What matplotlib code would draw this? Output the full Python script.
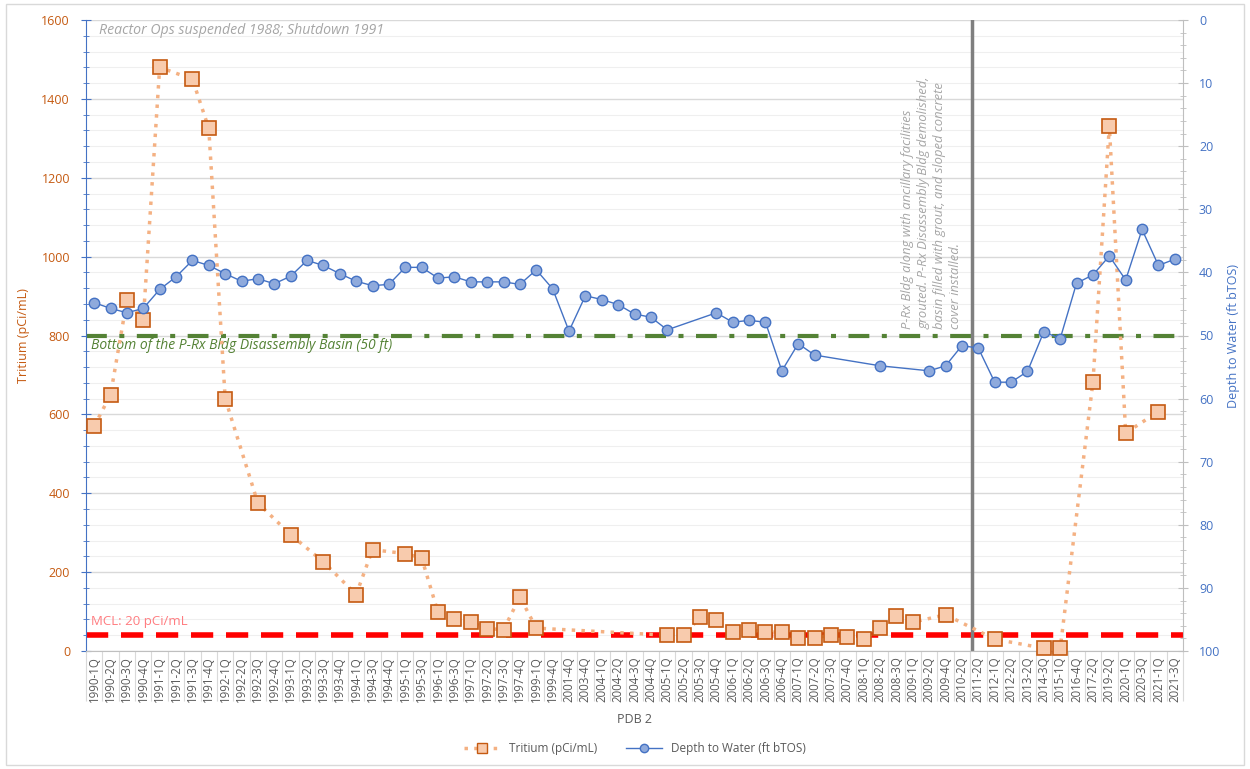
import numpy as np
import matplotlib
matplotlib.use("Agg")
import matplotlib.pyplot as plt
from matplotlib.lines import Line2D
from matplotlib.patches import Rectangle
from matplotlib.ticker import MultipleLocator, FixedLocator

plt.rcParams['font.family'] = ['Open Sans', 'DejaVu Sans']

categories = [
    "1990-1Q", "1990-2Q", "1990-3Q", "1990-4Q", "1991-1Q", "1991-2Q", "1991-3Q", "1991-4Q",
    "1992-1Q", "1992-2Q", "1992-3Q", "1992-4Q", "1993-1Q", "1993-2Q", "1993-3Q", "1993-4Q",
    "1994-1Q", "1994-3Q", "1994-4Q", "1995-1Q", "1995-3Q", "1996-1Q", "1996-3Q", "1997-1Q",
    "1997-2Q", "1997-3Q", "1997-4Q", "1999-1Q", "1999-4Q", "2001-4Q", "2003-4Q", "2004-1Q",
    "2004-2Q", "2004-3Q", "2004-4Q", "2005-1Q", "2005-2Q", "2005-3Q", "2005-4Q", "2006-1Q",
    "2006-2Q", "2006-3Q", "2006-4Q", "2007-1Q", "2007-2Q", "2007-3Q", "2007-4Q", "2008-1Q",
    "2008-2Q", "2008-3Q", "2009-1Q", "2009-2Q", "2009-4Q", "2010-2Q", "2011-2Q", "2012-1Q",
    "2012-2Q", "2013-2Q", "2014-3Q", "2015-1Q", "2016-4Q", "2017-2Q", "2019-2Q", "2020-1Q",
    "2020-3Q", "2021-1Q", "2021-3Q",
]

N = None
tritium = [
    570, 650, 890, 840, 1480, N, 1450, 1325,
    640, N, 375, N, 295, N, 226, N,
    143, 257, N, 247, 236, 98, 81, 73,
    57, 54, 137, 58, N, N, N, N,
    N, N, N, 40, 40, 85, 78, 48,
    54, 48, 48, 33, 33, 40, 36, 30,
    58, 90, 73, N, 92, N, N, 30,
    N, N, 7, 7, N, 682, 1331, 553,
    N, 607, N,
]

depth = [
    44.8, 45.7, 46.4, 45.7, 42.7, 40.7, 38.1, 38.9,
    40.2, 41.4, 41.0, 41.8, 40.6, 38.1, 38.9, 40.2,
    41.4, 42.1, 41.9, 39.2, 39.2, 40.9, 40.7, 41.5,
    41.5, 41.5, 41.9, 39.6, 42.6, 49.3, 43.7, 44.3,
    45.1, 46.6, 47.1, 49.1, N, N, 46.4, 47.9,
    47.6, 47.9, 55.6, 51.3, 53.1, N, N, N,
    54.8, N, N, 55.6, 54.8, 51.6, 52.0, 57.4,
    57.4, 55.7, 49.4, 50.5, 41.7, 40.4, 37.4, 41.2,
    33.2, 38.9, 37.9,
]

basin_bottom_tritium_scale = 800   # 50 ft on the depth axis
mcl_level = 40
event_position = 53.6

C_TRIT_LINE = "#F4B183"
C_TRIT_FACE = "#F8CBAD"
C_TRIT_EDGE = "#C55A11"
C_DEPTH = "#4472C4"
C_DEPTH_FACE = "#8FAADC"

fig = plt.figure(figsize=(12.5, 7.69), dpi=100)
ax = fig.add_axes([86/1250, 1-651/769, (1183-86)/1250, (651-20)/769])

x = np.arange(len(categories))
t = np.array([np.nan if v is None else v for v in tritium], dtype=float)
d = np.array([np.nan if v is None else v for v in depth], dtype=float)
mt = ~np.isnan(t)
md = ~np.isnan(d)

ax.set_xlim(-0.5, len(categories) - 0.5)
ax.set_ylim(0, 1600)
ax.yaxis.set_major_locator(MultipleLocator(200))
ax.yaxis.set_minor_locator(MultipleLocator(40))
ax.grid(axis='y', which='major', color='#D9D9D9', lw=1.0, zorder=0)
ax.grid(axis='y', which='minor', color='#EFEFEF', lw=0.8, zorder=0)
ax.set_axisbelow(True)

# reference lines
ax.axhline(basin_bottom_tritium_scale, color='#548235', lw=3, ls=(0, (5, 3, 1.2, 3)), zorder=2)
ax.axhline(mcl_level, color='#FF0000', lw=4, ls=(0, (4, 2.3)), zorder=2)
ax.axvline(event_position, color='#7F7F7F', lw=2.5, zorder=2)

ax.plot(x[mt], t[mt], color=C_TRIT_LINE, lw=2.5, ls=(0, (1, 1.8)), marker='s', ms=10,
        mfc=C_TRIT_FACE, mec=C_TRIT_EDGE, mew=1.2, zorder=4, clip_on=False)

ax.set_xticks(x)
ax.set_xticklabels(categories, rotation=90, fontsize=8.3, color='#595959')
ax.tick_params(axis='x', which='major', length=0, pad=4)
ax.xaxis.set_minor_locator(FixedLocator(np.arange(-0.5, len(categories), 1.0)))
ax.tick_params(axis='x', which='minor', length=36, color='#D9D9D9', width=0.8, direction='out')

ax.tick_params(axis='y', which='major', colors=C_DEPTH, length=7, direction='inout',
               labelsize=9, labelcolor=C_TRIT_EDGE, pad=8)
ax.tick_params(axis='y', which='minor', colors=C_DEPTH, length=5, direction='inout')
for s in ['top', 'right']:
    ax.spines[s].set_visible(False)
ax.spines['left'].set_color(C_DEPTH)
ax.spines['bottom'].set_color('#BFBFBF')
ax.set_ylabel("Tritium (pCi/mL)", color=C_TRIT_EDGE, fontsize=9, labelpad=8)
ax.set_xlabel("PDB 2", color='#595959', fontsize=9, labelpad=5)

ax2 = ax.twinx()
ax2.set_ylim(100, 0)
ax2.yaxis.set_major_locator(MultipleLocator(10))
ax2.yaxis.set_minor_locator(MultipleLocator(2))
ax2.plot(x[md], d[md], color=C_DEPTH, lw=1.0, marker='o', ms=7.5,
         mfc=C_DEPTH_FACE, mec=C_DEPTH, mew=1.0, zorder=5)
for s in ['top', 'left', 'bottom']:
    ax2.spines[s].set_visible(False)
ax2.spines['right'].set_color('#BFBFBF')
ax2.tick_params(axis='y', which='major', colors='#BFBFBF', length=7, direction='inout',
                labelsize=9, labelcolor=C_DEPTH, pad=8)
ax2.tick_params(axis='y', which='minor', colors='#BFBFBF', length=5, direction='inout')
ax2.set_ylabel("Depth to Water (ft bTOS)", color=C_DEPTH, fontsize=9, labelpad=5)

# annotations
ax.text(0.012, 0.983, "Reactor Ops suspended 1988; Shutdown 1991", transform=ax.transAxes,
        fontsize=10.2, style='italic', color='#A6A6A6', ha='left', va='center')
ax.text(0.005, 0.484, "Bottom of the P-Rx Bldg Disassembly Basin (50 ft)", transform=ax.transAxes,
        fontsize=10, style='italic', color='#548235', ha='left', va='center')
ax.text(0.005, 0.046, "MCL: 20 pCi/mL", transform=ax.transAxes,
        fontsize=9.5, color='#FF7C80', ha='left', va='center')
ax.text(51.15, 0.51,
        "P-Rx Bldg along with ancillary facilities\n"
        "grouted. P-Rx Disassembly Bldg demolished,\n"
        "basin filled with grout, and sloped concrete\n"
        "cover installed.",
        transform=ax.get_xaxis_transform(), rotation=90, fontsize=9.4, style='italic',
        color='#A6A6A6', ha='center', va='bottom', multialignment='left', linespacing=1.3)

handles = [
    Line2D([], [], color=C_TRIT_LINE, lw=2.5, ls=(0, (1, 1.8)), marker='s', ms=7,
           mfc=C_TRIT_FACE, mec=C_TRIT_EDGE),
    Line2D([], [], color=C_DEPTH, lw=1.0, marker='o', ms=6, mfc=C_DEPTH_FACE, mec=C_DEPTH),
]
fig.legend(handles, ["Tritium (pCi/mL)", "Depth to Water (ft bTOS)"], loc='center',
           bbox_to_anchor=(0.508, 0.027), ncol=2, frameon=False, fontsize=8.5,
           labelcolor='#595959', handlelength=3, columnspacing=2.5)

fig.patches.append(Rectangle((0.005, 0.005), 0.99, 0.99, transform=fig.transFigure,
                             fill=False, ec='#D9D9D9', lw=1))

fig.savefig("out.png", dpi=100, facecolor='white')
